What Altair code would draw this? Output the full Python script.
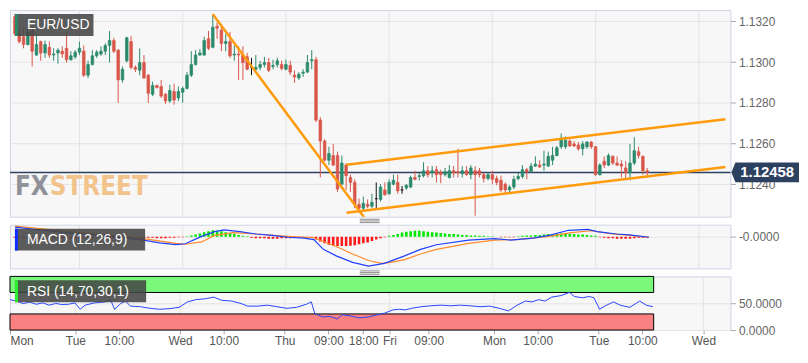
import altair as alt
import pandas as pd

# ---------------- data ----------------
open_ = [1.13224, 1.13139, 1.13125, 1.13087, 1.13153, 1.13035, 1.13101, 1.13045, 1.13073, 1.13035,
         1.13045, 1.13054, 1.13068, 1.13012, 1.13026, 1.13049, 1.13054, 1.12936, 1.12988, 1.13031,
         1.13040, 1.13054, 1.13082, 1.13106, 1.13059, 1.12913, 1.13007, 1.13101, 1.12974, 1.12960,
         1.12998, 1.12936, 1.12842, 1.12885, 1.12880, 1.12842, 1.12809, 1.12856, 1.12824, 1.12852,
         1.12871, 1.12936, 1.12988, 1.13035, 1.13035, 1.13115, 1.13073, 1.13176, 1.13158, 1.13092,
         1.13101, 1.13035, 1.13040, 1.13035, 1.13026, 1.12974, 1.12965, 1.12974, 1.12988, 1.12998,
         1.12979, 1.12988, 1.12988, 1.12965, 1.12984, 1.12936, 1.12922, 1.12946, 1.12951, 1.13007,
         1.13012, 1.12715, 1.12612, 1.12518, 1.12541, 1.12541, 1.12400, 1.12494, 1.12433, 1.12409,
         1.12301, 1.12282, 1.12301, 1.12292, 1.12329, 1.12325, 1.12372, 1.12353, 1.12400, 1.12409,
         1.12372, 1.12381, 1.12386, 1.12433, 1.12438, 1.12442, 1.12466, 1.12456, 1.12471, 1.12456,
         1.12447, 1.12433, 1.12466, 1.12461, 1.12452, 1.12466, 1.12447, 1.12466, 1.12466, 1.12447,
         1.12428, 1.12447, 1.12428, 1.12419, 1.12400, 1.12372, 1.12386, 1.12428, 1.12438, 1.12471,
         1.12461, 1.12489, 1.12494, 1.12494, 1.12489, 1.12518, 1.12541, 1.12584, 1.12584, 1.12612,
         1.12598, 1.12593, 1.12574, 1.12584, 1.12607, 1.12584, 1.12447, 1.12513, 1.12494, 1.12537,
         1.12504, 1.12499, 1.12480, 1.12456, 1.12504, 1.12560, 1.12537, 1.12466]
high = [1.13238, 1.13162, 1.13172, 1.13162, 1.13176, 1.13139, 1.13106, 1.13106, 1.13101, 1.13068,
        1.13068, 1.13078, 1.13148, 1.13054, 1.13059, 1.13101, 1.13082, 1.13007, 1.13059, 1.13059,
        1.13078, 1.13092, 1.13153, 1.13120, 1.13064, 1.12979, 1.13125, 1.13129, 1.12984, 1.13068,
        1.13035, 1.12941, 1.12904, 1.12889, 1.12913, 1.12847, 1.12889, 1.12894, 1.12880, 1.12880,
        1.12951, 1.13054, 1.13059, 1.13064, 1.13125, 1.13153, 1.13233, 1.13195, 1.13172, 1.13139,
        1.13148, 1.13082, 1.13078, 1.13078, 1.13045, 1.13021, 1.13035, 1.13007, 1.13026, 1.13021,
        1.13012, 1.13021, 1.13007, 1.13012, 1.13007, 1.12960, 1.12951, 1.12965, 1.13035, 1.13059,
        1.13026, 1.12729, 1.12621, 1.12584, 1.12598, 1.12560, 1.12541, 1.12504, 1.12447, 1.12424,
        1.12329, 1.12339, 1.12325, 1.12353, 1.12409, 1.12400, 1.12409, 1.12424, 1.12447, 1.12447,
        1.12391, 1.12400, 1.12442, 1.12466, 1.12456, 1.12508, 1.12489, 1.12489, 1.12489, 1.12471,
        1.12480, 1.12494, 1.12489, 1.12574, 1.12489, 1.12489, 1.12494, 1.12489, 1.12480, 1.12456,
        1.12456, 1.12466, 1.12442, 1.12442, 1.12409, 1.12395, 1.12442, 1.12456, 1.12494, 1.12480,
        1.12504, 1.12537, 1.12518, 1.12565, 1.12560, 1.12584, 1.12588, 1.12649, 1.12635, 1.12621,
        1.12612, 1.12607, 1.12612, 1.12612, 1.12612, 1.12588, 1.12504, 1.12537, 1.12551, 1.12541,
        1.12537, 1.12518, 1.12513, 1.12598, 1.12631, 1.12584, 1.12541, 1.12480]
low = [1.13129, 1.13092, 1.13068, 1.13082, 1.12979, 1.13031, 1.13007, 1.13021, 1.13021, 1.13007,
       1.12993, 1.13021, 1.12998, 1.13007, 1.13016, 1.13035, 1.12927, 1.12922, 1.12984, 1.13021,
       1.13031, 1.13035, 1.12998, 1.13045, 1.12800, 1.12899, 1.12998, 1.12965, 1.12951, 1.12936,
       1.12918, 1.12800, 1.12833, 1.12871, 1.12824, 1.12795, 1.12800, 1.12791, 1.12809, 1.12800,
       1.12866, 1.12927, 1.12984, 1.13031, 1.13031, 1.13059, 1.13068, 1.13115, 1.13054, 1.13054,
       1.13021, 1.13007, 1.12913, 1.12913, 1.12960, 1.12936, 1.12960, 1.12960, 1.12974, 1.12951,
       1.12965, 1.12974, 1.12960, 1.12960, 1.12936, 1.12899, 1.12913, 1.12927, 1.12946, 1.12965,
       1.12706, 1.12433, 1.12513, 1.12494, 1.12489, 1.12362, 1.12395, 1.12372, 1.12362, 1.12282,
       1.12268, 1.12268, 1.12282, 1.12282, 1.12282, 1.12315, 1.12344, 1.12348, 1.12395, 1.12353,
       1.12353, 1.12372, 1.12381, 1.12419, 1.12419, 1.12433, 1.12433, 1.12433, 1.12409, 1.12405,
       1.12438, 1.12428, 1.12433, 1.12433, 1.12433, 1.12442, 1.12424, 1.12245, 1.12433, 1.12409,
       1.12419, 1.12400, 1.12395, 1.12362, 1.12353, 1.12358, 1.12376, 1.12419, 1.12428, 1.12424,
       1.12456, 1.12485, 1.12480, 1.12466, 1.12485, 1.12494, 1.12537, 1.12574, 1.12574, 1.12584,
       1.12584, 1.12565, 1.12541, 1.12574, 1.12574, 1.12442, 1.12442, 1.12480, 1.12489, 1.12494,
       1.12489, 1.12433, 1.12424, 1.12419, 1.12494, 1.12527, 1.12447, 1.12433]
close = [1.13139, 1.13101, 1.13087, 1.13148, 1.13054, 1.13087, 1.13045, 1.13087, 1.13035, 1.13040,
         1.13059, 1.13040, 1.13012, 1.13031, 1.13049, 1.13068, 1.12936, 1.12988, 1.13031, 1.13049,
         1.13054, 1.13082, 1.13106, 1.13054, 1.12913, 1.12965, 1.13120, 1.12974, 1.12965, 1.12998,
         1.12922, 1.12847, 1.12885, 1.12875, 1.12833, 1.12809, 1.12861, 1.12814, 1.12856, 1.12871,
         1.12936, 1.12988, 1.13035, 1.13045, 1.13106, 1.13068, 1.13172, 1.13167, 1.13092, 1.13101,
         1.13031, 1.13040, 1.13035, 1.12998, 1.12965, 1.12974, 1.12974, 1.12988, 1.12998, 1.12960,
         1.12984, 1.13007, 1.12969, 1.12988, 1.12951, 1.12927, 1.12941, 1.12951, 1.12998, 1.13012,
         1.12715, 1.12612, 1.12518, 1.12551, 1.12494, 1.12376, 1.12504, 1.12442, 1.12409, 1.12301,
         1.12282, 1.12306, 1.12292, 1.12311, 1.12329, 1.12386, 1.12348, 1.12409, 1.12419, 1.12367,
         1.12372, 1.12395, 1.12433, 1.12424, 1.12442, 1.12466, 1.12447, 1.12466, 1.12447, 1.12447,
         1.12461, 1.12466, 1.12456, 1.12456, 1.12466, 1.12447, 1.12480, 1.12447, 1.12447, 1.12428,
         1.12447, 1.12424, 1.12409, 1.12372, 1.12372, 1.12386, 1.12424, 1.12438, 1.12471, 1.12461,
         1.12489, 1.12499, 1.12485, 1.12499, 1.12537, 1.12541, 1.12579, 1.12626, 1.12616, 1.12588,
         1.12588, 1.12574, 1.12598, 1.12607, 1.12584, 1.12447, 1.12494, 1.12494, 1.12541, 1.12504,
         1.12494, 1.12489, 1.12456, 1.12504, 1.12565, 1.12541, 1.12466, 1.12458]
first_hour = 9          # first candle: Monday 09:00 (hours counted from Monday 00:00)
last_price = 1.12458

# MACD histogram, in units of 1e-5
hist_e5 = [-2, -2, -3, -3, -3, -3, -3, -3, -3, -3, -3, -3, -3, -3, -3, -2, -2, -2, -2, -2,
           -2, -2, -2, -2, -2, -2, -2, -2, -2, -2, -2,
           -2, -2, -3, -3, -3, -2, -2, -1, -1,
           1, 3, 5, 7, 10, 12, 14, 13, 12, 10, 8, 6, 4, 2, 1,
           -2, -3, -3, -3, -4, -4, -4, -3, -3, -3, -2, -2, -1, -1,
           -2, -6, -10, -14, -17, -19, -20, -20, -20, -19, -18, -16, -14, -12, -9, -6, -3, -1,
           2, 4, 6, 9, 11, 12, 13, 13, 12, 11, 10, 9, 8, 7, 6, 6, 5, 4, 4, 3, 3, 2, 2, 1, 1, 0,
           -1, -1, -1, -1,
           1, 2, 3, 3, 4, 4, 5, 6, 6, 7, 7, 7, 6, 6, 5, 5, 4, 3, 2,
           -1, -2, -3, -3, -4, -4, -4, -4, -3, -2, -2, -2]

macd_h = [9.0, 16.5, 23.9, 31.4, 38.9, 42.6, 46.4, 48.6, 52.4, 55.4, 57.6, 61.3, 65.1, 68.8, 72.5,
          76.2, 78.5, 80.7, 83.7, 87.5, 91.2, 94.9, 99.6, 103.3, 107.0, 114.5, 120.5, 124.2, 129.5,
          133.2, 137.7, 142.2, 144.4, 148.9, 151.9, 156.4]
macd_v = [0.00021, 0.00013, 0.00006, 0.00001, -0.00007, -0.00013, -0.00017, -0.00015, 0.00001,
          0.00011, 0.00015, 0.00011, 0.00006, 0.00003, -0.00001, -0.00003, -0.00006, -0.00027,
          -0.00041, -0.00055, -0.00063, -0.00057, -0.00041, -0.00027, -0.00017, -0.00007, -0.00004,
          -0.00007, -0.00003, 0.00003, 0.00014, 0.00016, 0.00011, 0.00006, 0.00004, -0.00001]
sig_h = [9.0, 16.5, 23.9, 31.4, 38.9, 46.4, 48.6, 52.4, 55.4, 59.8, 65.1, 72.5, 78.5, 83.7, 87.5,
         91.2, 94.2, 96.4, 99.6, 103.3, 107.0, 114.5, 120.5, 125.7, 133.2, 138.4, 142.9, 147.4,
         151.9, 156.4]
sig_v = [0.00023, 0.00016, 0.00009, 0.00003, -0.00004, -0.00014, -0.00016, -0.00011, 0.00003,
         0.00009, 0.00006, 0.00001, -0.00002, -0.00021, -0.00037, -0.00051, -0.00057, -0.00055,
         -0.00049, -0.00037, -0.00027, -0.00014, -0.00007, -0.00006, 0.00001, 0.00009, 0.00013,
         0.00007, 0.00003, -0.00001]

rsi_h = [9.0, 10.5, 12.0, 13.5, 15.0, 16.5, 18.0, 19.5, 20.9, 22.4, 23.9, 25.1, 26.2, 28.4, 30.7,
         32.1, 33.0, 34.4, 35.5, 36.6, 38.9, 41.1, 43.3, 45.6, 47.8, 49.7, 51.6, 53.8, 55.7, 57.6,
         59.8, 62.0, 63.5, 65.8, 68.0, 70.3, 72.5, 74.7, 77.0, 78.1, 78.9, 80.7, 82.2, 84.1, 85.2,
         87.5, 89.0, 91.2, 93.4, 94.9, 96.8, 98.3, 99.6, 101.1, 103.3, 105.5, 107.8, 110.0, 112.3,
         114.5, 116.8, 119.0, 121.2, 123.3, 125.3, 127.2, 128.7, 130.2, 131.7, 133.2, 135.4, 137.3,
         138.4, 140.3, 141.8, 142.9, 144.2, 145.5, 147.4, 148.9, 151.1, 153.4, 154.9, 156.4]
rsi_v = [56.6, 54.0, 49.4, 52.0, 48.0, 50.6, 46.4, 49.5, 47.6, 48.0, 50.6, 38.7, 46.4, 50.6, 52.4,
         55.4, 38.7, 49.4, 54.0, 44.6, 43.5, 40.5, 38.7, 39.9, 42.3, 52.4, 56.6, 58.3, 61.3, 55.4,
         54.0, 49.4, 44.6, 44.6, 46.4, 43.4, 40.5, 42.3, 48.2, 52.4, 30.4, 24.4, 25.6, 20.8, 28.6,
         25.6, 22.6, 24.4, 28.6, 31.5, 37.5, 38.7, 37.5, 40.5, 43.5, 45.2, 46.4, 45.2, 46.4, 45.2,
         43.5, 44.6, 40.5, 35.7, 46.4, 54.0, 52.4, 56.6, 54.0, 61.3, 64.3, 70.2, 62.5, 60.1, 62.5,
         60.1, 38.7, 45.2, 52.4, 46.4, 42.3, 54.0, 46.4, 43.5]
rsi_upper, rsi_lower = 70, 30
rsi_band_end = 156.6

trend_id = ["falling", "falling", "channel_low", "channel_low", "channel_high", "channel_high"]
trend_h = [55.0, 91.0, 86.1, 174.2, 86.1, 174.2]
trend_p = [1.13235, 1.12214, 1.12260, 1.12485, 1.12496, 1.12719]

day_lines = [24, 48, 72, 96, 120, 144, 168]
tick_vals = [9, 24, 34, 48, 58, 72, 82, 90, 96, 105, 120, 130, 144, 154, 168]
tick_text = ["Mon", "Tue", "10:00", "Wed", "10:00", "Thu", "09:00", "18:00", "Fri", "09:00",
             "Mon", "10:00", "Tue", "10:00", "Wed"]
price_ticks = [1.1240, 1.1260, 1.1280, 1.1300, 1.1320]

assert len(open_) == len(high) == len(low) == len(close) == len(hist_e5)

# ---------------- styling ----------------
W, HM, HMA, HR = 725, 208, 44, 54
GREEN, RED, ORANGE, NAVY = "#2b8a6c", "#d8564a", "#ff9a0a", "#2c4060"
GRID = "#e4e4e4"
COND = "'DejaVu Sans Condensed', 'Liberation Sans Narrow', 'Roboto Condensed', Roboto, sans-serif"

hours = [first_hour + i for i in range(len(open_))]
xs = alt.Scale(domain=[9, 174.2], nice=False, zero=False)
one = pd.DataFrame({"k": [0]})


def yaxis(values, fmt=None, expr=None):
    kw = dict(orient="right", values=values, tickSize=5, tickColor="#a8a8a8", labelColor="#666666",
              labelFontSize=12, labelPadding=3, domain=False, grid=True, gridColor=GRID, title=None)
    if fmt:
        kw["format"] = fmt
    if expr:
        kw["labelExpr"] = expr
    return alt.Axis(**kw)


def label_box(text, accent, x2):
    box = alt.Chart(one).mark_rect(color="#454545", opacity=0.88).encode(
        x=alt.value(5), x2=alt.value(x2), y=alt.value(4), y2=alt.value(26))
    acc = alt.Chart(one).mark_rect(color=accent).encode(
        x=alt.value(5), x2=alt.value(8), y=alt.value(4), y2=alt.value(26))
    txt = alt.Chart(one).mark_text(text=text, color="white", fontSize=14, align="left",
                                   baseline="middle").encode(x=alt.value(17), y=alt.value(15.5))
    return [box, acc, txt]


def handle(h):
    return [alt.Chart(one).mark_rule(color="#8c8c8c", strokeWidth=1).encode(
        x=alt.value(352), x2=alt.value(372), y=alt.value(h + d)) for d in (2.5, 4.2, 5.9)]


def vgrid(axis):
    return alt.Chart(pd.DataFrame({"h": day_lines})).mark_rule(color=GRID, strokeWidth=1).encode(
        x=alt.X("h:Q", scale=xs, axis=axis))


# ---------------- main price panel ----------------
ys = alt.Scale(domain=[1.12240, 1.13256], nice=False, zero=False)
yax = yaxis(price_ticks, fmt=".4f")
dirs = ["up" if c > o else ("down" if c < o else "doji") for o, c in zip(open_, close)]
cdf = pd.DataFrame({"h": hours, "open": open_, "high": high, "low": low, "close": close, "dir": dirs})
cscale = alt.Scale(domain=["up", "down", "doji"], range=[GREEN, RED, "#111111"])
X = alt.X("h:Q", scale=xs, axis=None)

wm_fx = alt.Chart(one).mark_text(text="FX", font=COND, fontSize=26, fontWeight="bold",
                                 color="#8e9198", align="right", baseline="middle").encode(
    x=alt.value(39), y=alt.value(178))
wm_st = alt.Chart(one).mark_text(text="STREET", font=COND, fontSize=26, fontWeight="bold",
                                 color="#f3c38c", align="left", baseline="middle").encode(
    x=alt.value(40), y=alt.value(178))

pdf = pd.DataFrame({"p": [last_price]})
pline = alt.Chart(pdf).mark_rule(color=NAVY, strokeWidth=1.5).encode(
    y=alt.Y("p:Q", scale=ys, axis=yax))

wick = alt.Chart(cdf).mark_rule(strokeWidth=1, clip=True).encode(
    x=X, y=alt.Y("low:Q", scale=ys, axis=yax), y2="high:Q",
    color=alt.Color("dir:N", scale=cscale, legend=None))
body = alt.Chart(cdf).mark_bar(size=2.6, strokeWidth=0.7, clip=True).encode(
    x=X, y=alt.Y("open:Q", scale=ys, axis=yax), y2="close:Q",
    color=alt.Color("dir:N", scale=cscale, legend=None),
    stroke=alt.Stroke("dir:N", scale=cscale, legend=None))

tdf = pd.DataFrame({"id": trend_id, "h": trend_h, "p": trend_p})
trend = alt.Chart(tdf).mark_line(color=ORANGE, strokeWidth=2.5, clip=True).encode(
    x=X, y=alt.Y("p:Q", scale=ys, axis=yax), detail="id:N")

TAG = "M0,0L0.118,-0.294L2,-0.294L2,0.294L0.118,0.294Z"
tag = alt.Chart(pdf).mark_point(shape=TAG, size=4624, filled=True, color=NAVY, opacity=1,
                                strokeWidth=0).encode(
    x=alt.value(W + 1), y=alt.Y("p:Q", scale=ys, axis=yax))
tag_txt = alt.Chart(pdf).mark_text(color="white", fontSize=15, fontWeight="bold", align="center",
                                   baseline="middle").encode(
    x=alt.value(W + 37), y=alt.Y("p:Q", scale=ys, axis=yax), text=alt.Text("p:Q", format=".5f"))

main = alt.layer(vgrid(None), wm_fx, wm_st, pline, wick, body, trend,
                 *label_box("EUR/USD", GREEN, 84), tag, tag_txt, *handle(HM)).properties(
    width=W, height=HM)

# ---------------- MACD panel ----------------
ysm = alt.Scale(domain=[-0.00068, 0.00026], nice=False, zero=False)
yaxm = yaxis([0], expr="'-0.0000'")
hdf = pd.DataFrame({"h": hours, "v": [e * 1e-5 for e in hist_e5],
                    "sgn": ["pos" if e > 0 else "neg" for e in hist_e5]})
hist = alt.Chart(hdf).mark_bar(size=2.6, clip=True).encode(
    x=X, y=alt.Y("v:Q", scale=ysm, axis=yaxm),
    color=alt.Color("sgn:N", scale=alt.Scale(domain=["pos", "neg"], range=["#00e600", "#ff1a1a"]),
                    legend=None))
sline = alt.Chart(pd.DataFrame({"h": sig_h, "v": sig_v})).mark_line(
    color="#ff8a2a", strokeWidth=1.2, clip=True).encode(x=X, y=alt.Y("v:Q", scale=ysm, axis=yaxm))
mline = alt.Chart(pd.DataFrame({"h": macd_h, "v": macd_v})).mark_line(
    color="#2040ff", strokeWidth=1.2, clip=True).encode(x=X, y=alt.Y("v:Q", scale=ysm, axis=yaxm))

macd = alt.layer(vgrid(None), hist, sline, mline, *label_box("MACD (12,26,9)", "#1030ff", 136),
                 *handle(HMA)).properties(width=W, height=HMA)

# ---------------- RSI panel ----------------
label_expr = "".join(f"datum.value == {v} ? '{t}' : " for v, t in zip(tick_vals, tick_text)) + "''"
xax = alt.Axis(values=tick_vals, labelExpr=label_expr, grid=False, domain=False, tickSize=4,
               tickColor="#a8a8a8", labelColor="#555555", labelFontSize=12, labelPadding=2,
               labelFlush=5, labelOverlap=False, title=None)
XR = alt.X("h:Q", scale=xs, axis=xax)
ysr = alt.Scale(domain=[0, 100], nice=False, zero=False)
yaxr = yaxis([0, 50], fmt=".4f")
bands = pd.DataFrame({"h": [first_hour, first_hour], "h1": [rsi_band_end, rsi_band_end],
                      "lo": [rsi_upper, 0], "hi": [100, rsi_lower], "kind": ["ob", "os"]})
band = alt.Chart(bands).mark_rect(stroke="black", strokeWidth=1).encode(
    x=XR, x2="h1:Q", y=alt.Y("lo:Q", scale=ysr, axis=yaxr), y2="hi:Q",
    color=alt.Color("kind:N", scale=alt.Scale(domain=["ob", "os"], range=["#7af87a", "#f98181"]),
                    legend=None))
rline = alt.Chart(pd.DataFrame({"h": rsi_h, "v": rsi_v})).mark_line(
    color="#2846ff", strokeWidth=1, clip=True).encode(x=XR, y=alt.Y("v:Q", scale=ysr, axis=yaxr))

rsi = alt.layer(vgrid(xax), band, rline, *label_box("RSI (14,70,30,1)", "#2cf02c", 137)).properties(
    width=W, height=HR)

chart = alt.vconcat(main, macd, rsi, spacing=8, bounds="flush").resolve_scale(
    x="independent", y="independent", color="independent", stroke="independent"
).properties(padding=0, background="white").configure(font="Arial").configure_view(
    stroke="#cdd5e6", fill="#f7f7f7")

chart.save("out.html", embed_options={"renderer": "svg", "actions": False})
